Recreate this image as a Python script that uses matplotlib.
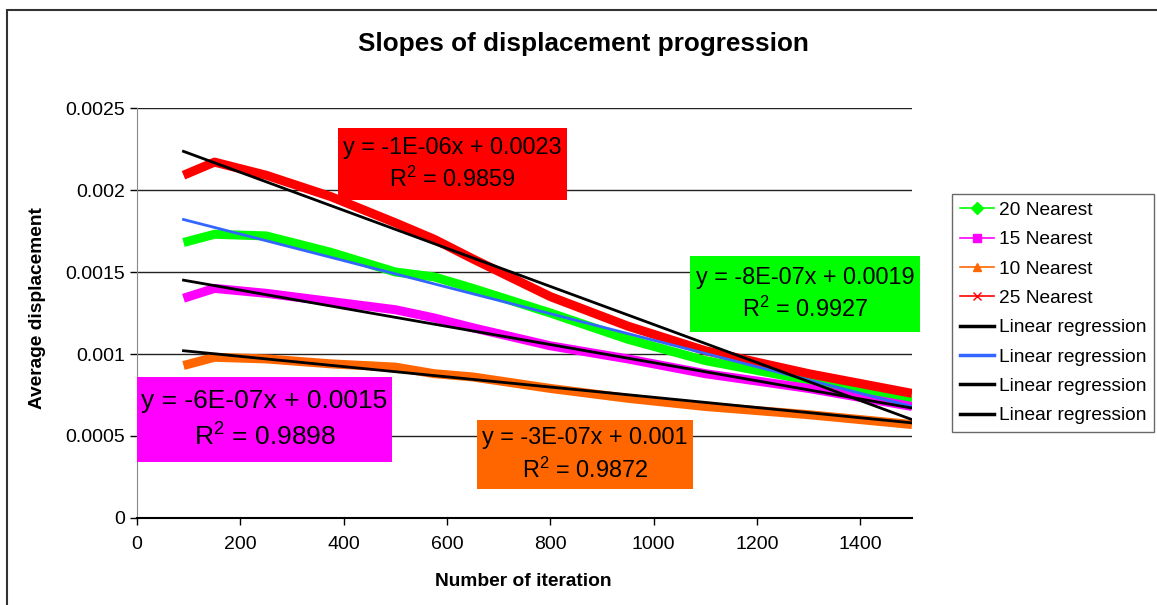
import matplotlib
matplotlib.use("Agg")
import matplotlib.pyplot as plt
from matplotlib.lines import Line2D
from matplotlib.patches import Rectangle
import numpy as np

plt.rcParams["font.family"] = ["Liberation Sans", "DejaVu Sans"]
plt.rcParams["mathtext.fontset"] = "custom"
plt.rcParams["mathtext.rm"] = "Liberation Sans"

#%%
# data
iterations = [90, 150, 250, 375, 500, 575, 650, 800, 950, 1100, 1300, 1500]

nearest_20 = [0.00168, 0.00173, 0.00172, 0.00162, 0.00150, 0.00147, 0.00140,
              0.00125, 0.00109, 0.00096, 0.00084, 0.00072]
nearest_15 = [0.00134, 0.00140, 0.00137, 0.00132, 0.00127, 0.00122, 0.00116,
              0.00105, 0.00097, 0.00088, 0.00079, 0.00068]
nearest_10 = [0.00093, 0.00098, 0.00097, 0.00094, 0.00092, 0.00088, 0.00086,
              0.00079, 0.00073, 0.00068, 0.00063, 0.00057]
nearest_25 = [0.00209, 0.00217, 0.00209, 0.00196, 0.00180, 0.00170, 0.00158,
              0.00135, 0.00117, 0.00102, 0.00088, 0.00076]

series_names = ["20 Nearest", "15 Nearest", "10 Nearest", "25 Nearest"]
series_values = [nearest_20, nearest_15, nearest_10, nearest_25]
series_colors = ["#00FF00", "#FF00FF", "#FF6600", "#FF0000"]
series_markers = ["D", "s", "^", "x"]

# fitted lines (slope, intercept), drawn over the data range
fit_slopes = [-8.09e-07, -5.53e-07, -3.12e-07, -1.16e-06]
fit_intercepts = [0.001893, 0.0015, 0.001048, 0.00234]
fit_colors = ["#3366FF", "black", "black", "black"]

# trendline labels
eq_texts = ["y = -8E-07x + 0.0019", "y = -6E-07x + 0.0015",
            "y = -3E-07x + 0.001", "y = -1E-06x + 0.0023"]
r2_texts = ["0.9927", "0.9898", "0.9872", "0.9859"]

x_ticks = [0, 200, 400, 600, 800, 1000, 1200, 1400]
y_ticks = [0, 0.0005, 0.001, 0.0015, 0.002, 0.0025]

#%%
W, H = 1157, 605
fig = plt.figure(figsize=(W / 100, H / 100), dpi=100)
ax = fig.add_axes([137 / W, 1 - 518 / H, (912 - 137) / W, (518 - 108) / H])

for vals, col in zip(series_values, series_colors):
    ax.plot(iterations, vals, color=col, linewidth=6.5, solid_capstyle="butt",
            solid_joinstyle="round", zorder=3)

x_fit = np.array([iterations[0], iterations[-1]])
for k, b, col in zip(fit_slopes, fit_intercepts, fit_colors):
    ax.plot(x_fit, k * x_fit + b, color=col, linewidth=2, zorder=4)

ax.set_xlim(0, 1500)
ax.set_ylim(0, 0.0025)
ax.set_xticks(x_ticks)
ax.set_yticks(y_ticks)
ax.set_yticklabels(["{:g}".format(v) for v in y_ticks])
ax.tick_params(labelsize=14, direction="out", length=5, width=1, color="black")
ax.tick_params(axis="x", pad=8)
ax.grid(axis="y", color="#222222", linewidth=1)
ax.set_axisbelow(True)
for s in ["top", "right"]:
    ax.spines[s].set_visible(False)
ax.spines["left"].set_color("#888888")
ax.spines["bottom"].set_linewidth(1.5)

fig.text(583 / W, 1 - 44 / H, "Slopes of displacement progression",
         ha="center", va="center", fontsize=18.8, fontweight="bold")
fig.text(523 / W, 1 - 581 / H, "Number of iteration",
         ha="center", va="center", fontsize=13.8, fontweight="bold")
fig.text(38 / W, 1 - 308 / H, "Average displacement", rotation=90,
         ha="center", va="center", fontsize=13.8, fontweight="bold")

# legend
handles = []
for name, col, mk in zip(series_names, series_colors, series_markers):
    handles.append(Line2D([], [], color=col, marker=mk, markersize=6,
                          linewidth=1.2, label=name))
for col in fit_colors:
    handles.append(Line2D([], [], color=col, linewidth=2.5, label="Linear regression"))
# legend order in the chart: black, blue, black, black
handles[4:] = [handles[5], handles[4], handles[6], handles[7]]
leg = ax.legend(handles=handles, loc="upper left", bbox_to_anchor=(1.052, 0.79),
                borderaxespad=0, fontsize=13.8, frameon=True, fancybox=False,
                edgecolor="#444444", handlelength=1.75, labelspacing=0.62,
                handletextpad=0.3, borderpad=0.4)
leg.get_frame().set_linewidth(1)

# trendline label boxes (pixel positions)
box_pos = [(690, 256, 920, 332, 16.9), (137, 377, 392, 462, 19),
           (477, 420, 693, 489, 16.9), (338, 128, 567, 200, 16.9)]
for (x0, y0, x1, y1, fs), col, eq, r2 in zip(box_pos, series_colors, eq_texts, r2_texts):
    fig.add_artist(Rectangle((x0 / W, 1 - y1 / H), (x1 - x0) / W, (y1 - y0) / H,
                             transform=fig.transFigure, facecolor=col,
                             edgecolor="none", zorder=5))
    fig.text((x0 + x1) / 2 / W, 1 - (y0 + y1) / 2 / H,
             eq + "\nR$^{2}$ = " + r2, ha="center", va="center",
             fontsize=fs, linespacing=1.4, zorder=6)

# outer chart border
fig.add_artist(Rectangle((7 / W, -0.1), 1.2, 1 - 10 / H + 0.1,
                         transform=fig.transFigure, fill=False,
                         edgecolor="#333333", linewidth=1.5))

fig.savefig("out.png", dpi=100)
